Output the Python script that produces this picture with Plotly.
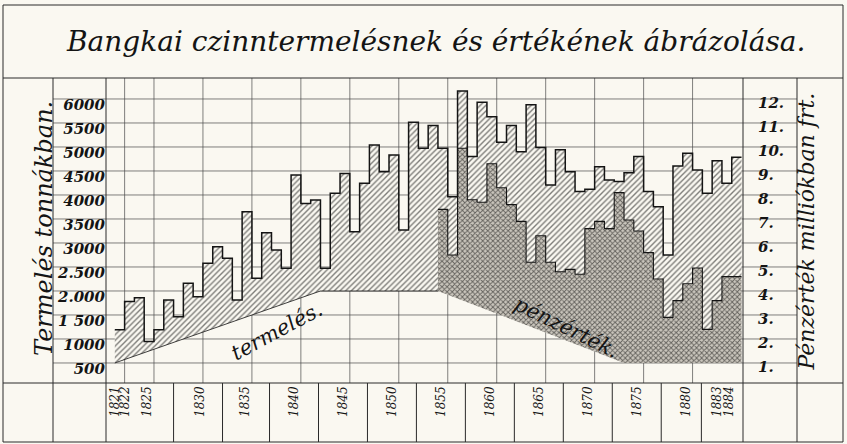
import plotly.graph_objects as go

# ---------------- data ----------------
years = list(range(1821, 1885))
production_t = [1190, 1780, 1860, 950, 1190, 1810, 1465, 2160, 1880, 2580,
                2920, 2680, 1810, 3650, 2265, 3215, 2855, 2475, 4415, 3825,
                3895, 2475, 4035, 4450, 3235, 4245, 5040, 4485, 4835, 3270,
                5515, 4975, 5445, 4975, 3965, 6165, 4800, 5930, 5630, 5100,
                5445, 4900, 5880, 4990, 4210, 4940, 4485, 4070, 4120, 4590,
                4310, 4280, 4465, 4800, 4070, 3755, 2750, 4605, 4870, 4520,
                4035, 4715, 4245, 4785]
value_years = list(range(1854, 1885))
value_mfrt = [7.4, 5.5, 9.95, 7.8, 7.7, 9.3, 8.3, 7.6, 6.9, 5.2,
              6.3, 5.2, 4.8, 4.9, 4.7, 6.6, 6.9, 6.6, 8.1, 6.96,
              6.5, 5.6, 4.5, 2.9, 3.6, 4.3, 4.96, 2.4, 3.6, 4.6, 4.6]
# decorative ribbon bases
prod_ribbon_years = [1821, 1842, 1854]
prod_ribbon_t = [500, 2000, 2000]
value_ribbon_years = [1854, 1873, 1885]
value_ribbon_m = [4, 1, 1]

left_ticks = [500, 1000, 1500, 2000, 2500, 3000, 3500, 4000, 4500, 5000, 5500, 6000]
left_ticktext = ["500", "1000", "1 500", "2.000", "2.500", "3000", "3500", "4000",
                 "4500", "5000", "5500", "6000"]
right_ticks = list(range(1, 13))
right_ticktext = [f"{v}." for v in right_ticks]
year_labels = [1821, 1822, 1825, 1830, 1835, 1840, 1845, 1850, 1855, 1860,
               1865, 1870, 1875, 1880, 1883, 1884]
grid_years = [1822, 1825, 1830, 1835, 1840, 1845, 1850, 1855, 1860, 1865,
              1870, 1875, 1880]

TITLE = "Bangkai czinntermelésnek és értékének ábrázolása."
LEFT_TITLE = "Termelés tonnákban."
RIGHT_TITLE = "Pénzérték milliókban frt."

# ---------------- layout geometry ----------------
W, H = 847, 444
ML, MR, MT, MB = 106, 104, 78, 61
PW, PH = W - ML - MR, H - MT - MB
XR = [1820.1, 1885.15]
YR = [83, 6437]
RATIO = 500.0  # tons per million frt on the shared grid

BG = "#faf8f1"
INK = "#141414"
FONT = "DejaVu Serif"

# hand-lettered year labels sit a little left of their year boundary
label_shift = {1821: -0.05, 1822: -0.1, 1825: 0.7, 1830: 0.3, 1883: 0.5, 1884: 0.25}
lab_pos = [y - label_shift.get(y, 0.7) for y in year_labels]


def px(xp):
    return (xp - ML) / PW


def py(yp):
    return (H - MB - yp) / PH


def xdata(xp):
    return XR[0] + (xp - ML) / PW * (XR[1] - XR[0])


def steps(xs, ys, end):
    return list(xs) + [end], list(ys) + [ys[-1]]


fig = go.Figure()

hatch = dict(shape="/", fgcolor="#000000", bgcolor=BG, size=4, solidity=0.34)
cross = dict(shape="x", fgcolor="#000000", bgcolor="#c9c5bc", size=3.6, solidity=0.45)

split = years.index(1854)

# production part 1 : ribbon base -> production top
fig.add_trace(go.Scatter(x=prod_ribbon_years, y=prod_ribbon_t, mode="lines",
                         line=dict(color=INK, width=0.8), hoverinfo="skip"))
sx, sy = steps(years[:split], production_t[:split], 1854)
fig.add_trace(go.Scatter(x=sx, y=sy, mode="lines", line=dict(width=0, shape="hv"),
                         fill="tonexty", fillpattern=hatch, fillcolor=BG, hoverinfo="skip"))

# production part 2 : value top -> production top
vx, vy = steps(value_years, [v * RATIO for v in value_mfrt], 1885)
fig.add_trace(go.Scatter(x=vx, y=vy, mode="lines", line=dict(width=0, shape="hv"),
                         hoverinfo="skip"))
sx2, sy2 = steps(years[split:], production_t[split:], 1885)
fig.add_trace(go.Scatter(x=sx2, y=sy2, mode="lines", line=dict(width=0, shape="hv"),
                         fill="tonexty", fillpattern=hatch, fillcolor=BG, hoverinfo="skip"))

# value: ribbon base -> value top (cross hatch)
fig.add_trace(go.Scatter(x=value_ribbon_years, y=[v * RATIO for v in value_ribbon_m],
                         mode="lines", line=dict(width=0), hoverinfo="skip"))
fig.add_trace(go.Scatter(x=vx, y=vy, mode="lines", line=dict(width=0, shape="hv"),
                         fill="tonexty", fillpattern=cross, fillcolor=BG, hoverinfo="skip"))

# outlines
ax_, ay_ = steps(years, production_t, 1885)
fig.add_trace(go.Scatter(x=ax_, y=ay_, mode="lines",
                         line=dict(color=INK, width=1.5, shape="hv"), name="termelés"))
fig.add_trace(go.Scatter(x=vx, y=[v for v in value_mfrt] + [value_mfrt[-1]], yaxis="y2",
                         mode="lines", line=dict(color=INK, width=1.1, shape="hv"),
                         name="pénzérték"))

# ---------------- frame / grid shapes ----------------
shapes = []
LINE = dict(color="#2a2a2a", width=1)
GRID = dict(color="#4a4a4a", width=0.7)


def seg(x0, y0, x1, y1, line=LINE):
    shapes.append(dict(type="line", xref="paper", yref="paper",
                       x0=px(x0), y0=py(y0), x1=px(x1), y1=py(y1), line=line, layer="below"))


# horizontal grid lines across label columns and plot
for t in left_ticks:
    yp = (t - YR[0]) / (YR[1] - YR[0])
    shapes.append(dict(type="line", xref="paper", yref="paper", x0=px(53), x1=px(797),
                       y0=yp, y1=yp, line=GRID, layer="below"))
# vertical grid lines
for g in grid_years:
    shapes.append(dict(type="line", xref="x", yref="paper", x0=g, x1=g, y0=0, y1=1,
                       line=GRID, layer="below"))
# dividers in the year-label row: midway between neighbouring labels
for a, b in zip(lab_pos[2:-2], lab_pos[3:-1]):
    m = (a + b) / 2
    shapes.append(dict(type="line", xref="x", yref="paper", x0=m, x1=m,
                       y0=py(442), y1=py(383), line=LINE, layer="below"))

# frame
seg(3, 5, 843, 5)
seg(3, 78, 843, 78)
seg(3, 383, 843, 383)
seg(3, 442, 843, 442)
seg(3, 5, 3, 442)
seg(843, 5, 843, 442)
seg(53, 78, 53, 442)
seg(797, 78, 797, 442)
seg(ML, 78, ML, 442)
seg(W - MR, 78, W - MR, 442)

# ---------------- annotations ----------------
ann = [
    dict(text=TITLE, x=px(436), xref="paper", xanchor="center",
         y=py(42), yref="paper", yanchor="middle", showarrow=False,
         font=dict(family=FONT, size=28, color=INK, style="italic")),
    dict(text=LEFT_TITLE, x=px(28), xref="paper", y=py(229), yref="paper",
         textangle=-90, showarrow=False,
         font=dict(family=FONT, size=24, color=INK, style="italic")),
    dict(text=RIGHT_TITLE, x=px(821), xref="paper", y=py(232), yref="paper",
         textangle=-90, showarrow=False,
         font=dict(family=FONT, size=22, color=INK, style="italic")),
    dict(text="termelés.", x=xdata(277), y=1160, xref="x", yref="y", textangle=-28,
         showarrow=False, font=dict(family=FONT, size=21, color=INK, style="italic")),
    dict(text="pénzérték.", x=xdata(566), y=1250, xref="x", yref="y", textangle=26,
         showarrow=False, font=dict(family=FONT, size=21, color=INK, style="italic")),
]

fig.update_layout(
    width=W, height=H,
    margin=dict(l=ML, r=MR, t=MT, b=MB, pad=0),
    paper_bgcolor=BG, plot_bgcolor=BG,
    showlegend=False,
    shapes=shapes,
    annotations=ann,
    xaxis=dict(range=XR, showgrid=False, zeroline=False, showline=False,
               tickmode="array", tickvals=lab_pos,
               ticktext=[str(y) for y in year_labels], tickangle=-90, ticks="",
               tickfont=dict(family=FONT, size=12, color=INK, style="italic")),
    yaxis=dict(range=YR, showgrid=False, zeroline=False, showline=False,
               tickmode="array", tickvals=left_ticks, ticktext=left_ticktext, ticks="",
               ticklabelshift=6,
               tickfont=dict(family=FONT, size=15, color=INK, style="italic", weight="bold")),
    yaxis2=dict(range=[YR[0] / RATIO, YR[1] / RATIO], overlaying="y", side="right",
                showgrid=False, zeroline=False, showline=False, tickmode="array",
                tickvals=right_ticks, ticktext=right_ticktext, ticks="",
                ticklabelstandoff=14, ticklabelshift=4,
                tickfont=dict(family=FONT, size=15, color=INK, style="italic", weight="bold")),
)

fig.write_html("out.html", config={"displayModeBar": False},
               post_script="document.body.style.margin='0px';")
